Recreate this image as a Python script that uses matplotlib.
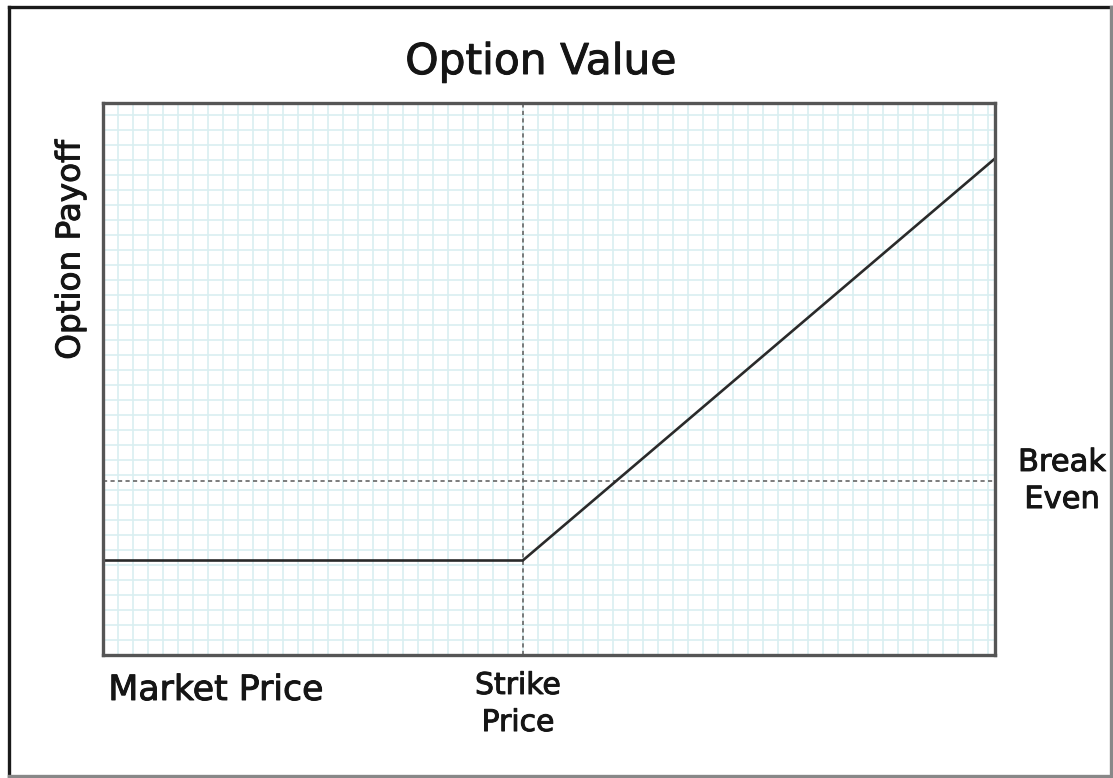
import matplotlib
matplotlib.use("Agg")
import matplotlib.pyplot as plt
import matplotlib.patheffects as pe
from matplotlib.lines import Line2D
from matplotlib.ticker import MultipleLocator

# Data (grid units)
market_price = [0, 28, 59.5]
payoff = [6.3, 6.3, 33.1]
strike = 28
break_even = 11.6
x_max = 59.5
y_max = 36.8

title = "Option Value"
y_label = "Option Payoff"
x_label = "Market Price"
strike_label = "Strike\nPrice"
be_label = "Break\nEven"

plt.rcParams['font.family'] = ['DejaVu Sans']

W, H = 1113, 778
fig = plt.figure(figsize=(W / 100, H / 100), dpi=100)
fig.patch.set_facecolor('white')

def fx(px):
    return px / W

def fy(py):
    return 1 - py / H

# outer frame: dark left/top, lighter right/bottom
for (x0, y0, x1, y1, c) in [(9, 7, 9, 776, '#1a1a1a'), (9, 7, 1111, 7, '#1a1a1a'),
                            (1111, 7, 1111, 776, '#888888'), (9, 776, 1111, 776, '#888888')]:
    fig.add_artist(Line2D([fx(x0), fx(x1)], [fy(y0), fy(y1)], transform=fig.transFigure,
                          color=c, linewidth=2.4, solid_capstyle='projecting'))

ax = fig.add_axes([fx(103), fy(655), 892 / W, 552 / H])
ax.set_xlim(0, x_max)
ax.set_ylim(0, y_max)
ax.xaxis.set_major_locator(MultipleLocator(1))
ax.yaxis.set_major_locator(MultipleLocator(1))
ax.grid(True, color='#d9eff1', linewidth=1.2)
ax.set_axisbelow(True)
ax.tick_params(length=0, labelbottom=False, labelleft=False)
for s in ax.spines.values():
    s.set_color('#555555')
    s.set_linewidth(2.4)

ax.axvline(strike, color='#666666', linestyle=(0, (2.5, 2)), linewidth=1.2)
ax.axhline(break_even, color='#666666', linestyle=(0, (2.5, 2)), linewidth=1.2)
ax.plot(market_price, payoff, color='#2a2a2a', linewidth=1.9, solid_joinstyle='miter')

tc = '#151515'
bold = [pe.withStroke(linewidth=0.7, foreground=tc)]
fig.text(fx(541), fy(62), title, ha='center', va='center', fontsize=30.5, color=tc,
         path_effects=bold)
fig.text(fx(70), fy(250), y_label, ha='center', va='center', rotation=90, fontsize=23.5,
         color=tc, path_effects=bold)
fig.text(fx(216), fy(690), x_label, ha='center', va='center', fontsize=25, color=tc,
         path_effects=bold)
fig.text(fx(518), fy(704), strike_label, ha='center', va='center', fontsize=21.5,
         color=tc, linespacing=1.35, path_effects=bold)
fig.text(fx(1062), fy(481), be_label, ha='center', va='center', fontsize=22,
         color=tc, linespacing=1.35, path_effects=bold)

fig.savefig('out.png', dpi=100, facecolor='white')
